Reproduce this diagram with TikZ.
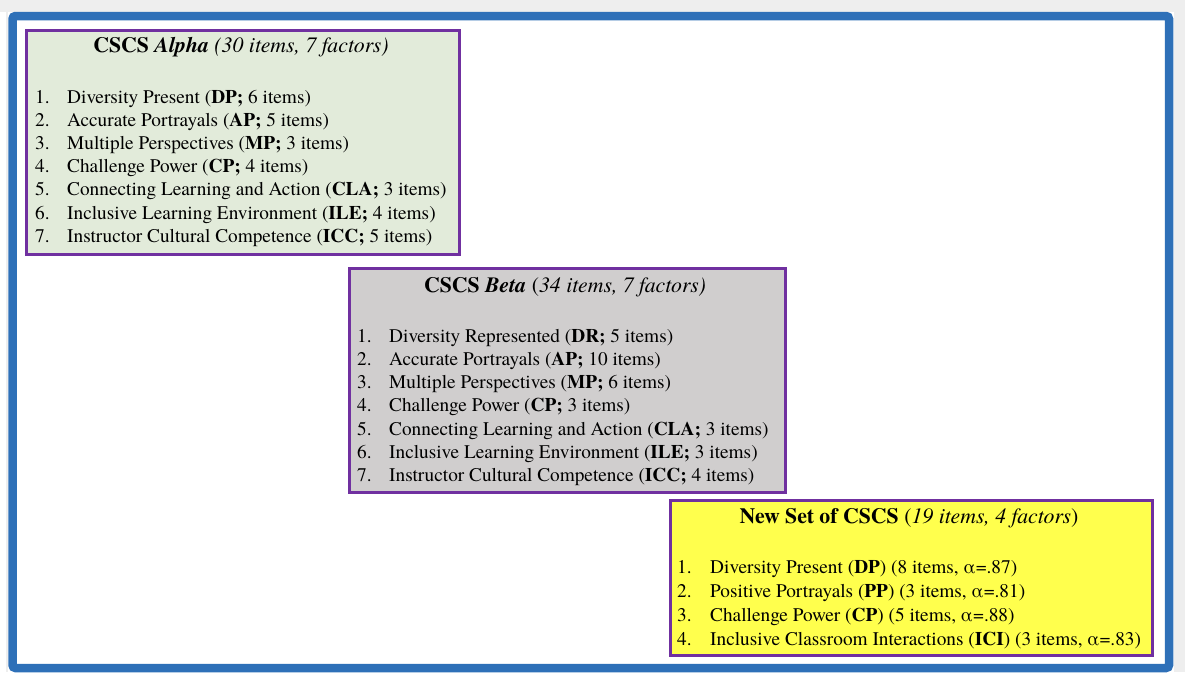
\documentclass[tikz,border=0pt]{standalone}
\usepackage{fontspec}
\setmainfont{TeX Gyre Termes}
\definecolor{bgray}{RGB}{238,238,238}
\definecolor{frameblue}{RGB}{46,112,184}
\definecolor{boxpurple}{RGB}{112,48,160}
\definecolor{alphafill}{RGB}{226,235,218}
\definecolor{betafill}{RGB}{208,206,206}
\definecolor{newfill}{RGB}{255,255,77}
\tikzset{
  box/.style={draw=boxpurple, line width=3pt, inner sep=0pt, anchor=north west},
  txt/.style={inner sep=0pt, font=\fontsize{19.3}{23}\selectfont, anchor=base west},
  ttl/.style={inner sep=0pt, font=\fontsize{21.8}{25}\selectfont, anchor=base},
}
\begin{document}
\begin{tikzpicture}[x=1pt,y=-1pt]
\useasboundingbox (0,0) rectangle (1185,672);
\fill[white] (0,0) rectangle (1185,672);
\fill[bgray] (0,0) rectangle (1185,12);
\fill[bgray] (1174,0) rectangle (1185,672);
\fill[bgray] (6,12) rectangle (8,672);
\draw[frameblue, line width=8.5pt, rounded corners=3pt] (12.5,16) rectangle (1169,668);
% boxes
\node[box, fill=alphafill, minimum width=433pt, minimum height=224pt] (alpha) at (24.5,28.5) {};
\node[box, fill=betafill, minimum width=436pt, minimum height=224pt] (beta) at (347.5,266.5) {};
\node[box, fill=newfill, minimum width=482pt, minimum height=155pt] (new) at (668.5,498.5) {};
% titles
\node[ttl] (alphattl) at (241,52) {\textbf{CSCS \textit{Alpha}} \textit{(30 items, 7 factors)}};
\node[ttl] (betattl) at (565,292) {\textbf{CSCS \textit{Beta}} (\textit{34 items, 7 factors)}};
\node[ttl] (newttl) at (909,523) {\textbf{New Set of CSCS} (\textit{19 items, 4 factors})};
% alpha items
\foreach \t [count=\i] in {
  Diversity Present (\textbf{DP;} 6 items),
  Accurate Portrayals (\textbf{AP;} 5 items),
  Multiple Perspectives (\textbf{MP;} 3 items),
  Challenge Power (\textbf{CP;} 4 items),
  Connecting Learning and Action (\textbf{CLA;} 3 items),
  Inclusive Learning Environment (\textbf{ILE;} 4 items),
  Instructor Cultural Competence (\textbf{ICC;} 5 items)}{
  \node[txt] (an\i) at (35,{103+23.2*(\i-1)}) {\i.};
  \node[txt] (a\i) at (67,{103+23.2*(\i-1)}) {\t};
}
% beta items
\foreach \t [count=\i] in {
  Diversity Represented (\textbf{DR;} 5 items),
  Accurate Portrayals (\textbf{AP;} 10 items),
  Multiple Perspectives (\textbf{MP;} 6 items),
  Challenge Power (\textbf{CP;} 3 items),
  Connecting Learning and Action (\textbf{CLA;} 3 items),
  Inclusive Learning Environment (\textbf{ILE;} 3 items),
  Instructor Cultural Competence (\textbf{ICC;} 4 items)}{
  \node[txt] (bn\i) at (357,{342+23.3*(\i-1)}) {\i.};
  \node[txt] (b\i) at (389,{342+23.3*(\i-1)}) {\t};
}
% new items
\foreach \t [count=\i] in {
  {Diversity Present (\textbf{DP}) (8 items, α=.87)},
  {Positive Portrayals (\textbf{PP}) (3 items, α=.81)},
  {Challenge Power (\textbf{CP}) (5 items, α=.88)},
  {Inclusive Classroom Interactions (\textbf{ICI}) (3 items, α=.83)}}{
  \node[txt] (nn\i) at (677,{573+24*(\i-1)}) {\i.};
  \node[txt] (n\i) at (710,{573+24*(\i-1)}) {\t};
}
\end{tikzpicture}
\end{document}
